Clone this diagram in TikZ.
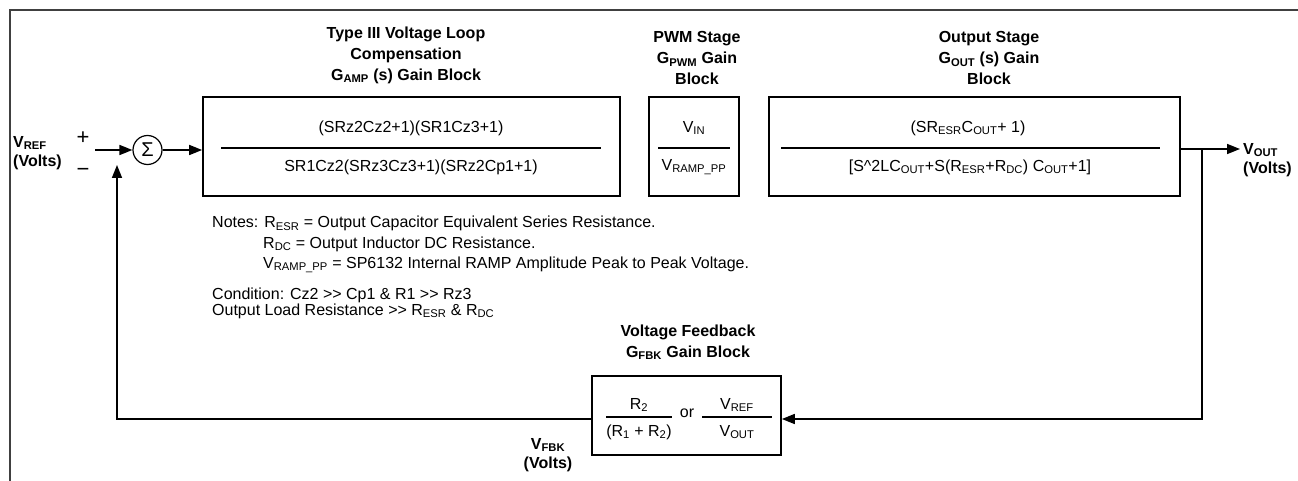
\documentclass[tikz,border=0pt]{standalone}
\usepackage{fontspec}
\setmainfont{Liberation Sans}
\usetikzlibrary{arrows.meta}
\tikzset{
  blk/.style={draw, line width=1.7pt, inner sep=0pt},
  fracline/.style={line width=1.3pt},
  conn/.style={line width=1.7pt},
  arr/.style={conn, -{Triangle[length=13pt,width=10pt]}},
  ttl/.style={font=\fontsize{16}{21}\selectfont\bfseries, align=center, inner sep=0pt},
  txt/.style={font=\fontsize{16}{19}\selectfont, inner sep=0pt},
  lbl/.style={font=\fontsize{16}{19}\selectfont\bfseries, inner sep=0pt},
  framel/.style={line width=1.5pt, draw=black!75},
}
\begin{document}
\begin{tikzpicture}[x=1pt,y=-1pt]
\useasboundingbox (0,0) rectangle (1298,481);
% frame
\draw[framel] (1298,10) -- (10,10) -- (10,481);

% blocks
\node[blk, minimum width=417pt, minimum height=99pt] (amp) at (411.5,146.5) {};
\node[blk, minimum width=90pt, minimum height=99pt] (pwm) at (694,146.5) {};
\node[blk, minimum width=411pt, minimum height=99pt] (gout) at (974.5,146.5) {};
\node[blk, minimum width=189pt, minimum height=79pt] (fbk) at (686.5,415.5) {};

% titles
\node[ttl] (tamp) at (406,55) {Type III Voltage Loop\\Compensation\\G\textsubscript{AMP} (s) Gain Block};
\node[ttl] (tpwm) at (697,58) {PWM Stage\\G\textsubscript{PWM} Gain\\Block};
\node[ttl] (tout) at (989,58) {Output Stage\\G\textsubscript{OUT} (s) Gain\\Block};
\node[ttl] (tfbk) at (688,342) {Voltage Feedback\\G\textsubscript{FBK} Gain Block};

% block contents
\draw[fracline] (221,148) -- (601,148);
\node[txt] (ampnum) at (411,128) {(SRz2Cz2+1)(SR1Cz3+1)};
\node[txt] (ampden) at (411,167) {SR1Cz2(SRz3Cz3+1)(SRz2Cp1+1)};

\draw[fracline] (658,148) -- (730,148);
\node[txt] (pwmnum) at (694,128) {V\textsubscript{IN}};
\node[txt] (pwmden) at (694,167) {V\textsubscript{RAMP\_PP}};

\draw[fracline] (781,148) -- (1160,148);
\node[txt] (outnum) at (968,128) {(SR\textsubscript{ESR}C\textsubscript{OUT}+ 1)};
\node[txt] (outden) at (970,167) {[S\textasciicircum 2LC\textsubscript{OUT}+S(R\textsubscript{ESR}+R\textsubscript{DC}) C\textsubscript{OUT}+1]};

\draw[fracline] (606,417) -- (672,417);
\node[txt] (fbn1) at (639,405) {R\textsubscript{2}};
\node[txt] (fbd1) at (639,432) {(R\textsubscript{1} + R\textsubscript{2})};
\node[txt] (fbor) at (687,413) {or};
\draw[fracline] (702,417) -- (772,417);
\node[txt] (fbn2) at (737,405) {V\textsubscript{REF}};
\node[txt] (fbd2) at (737,432) {V\textsubscript{OUT}};

% summing junction
\node[draw, circle, line width=1.2pt, minimum size=29pt, inner sep=0pt, font=\fontsize{20}{20}\selectfont] (sum) at (147.5,150) {Σ};
\node[inner sep=0pt, font=\fontsize{22}{22}\selectfont] (plus) at (83,138) {+};
\node[inner sep=0pt, font=\fontsize{22}{22}\selectfont] (minus) at (83,172) {−};

% signal labels
\node[lbl, align=left, anchor=west] (vref) at (13,153) {V\textsubscript{REF}\\(Volts)};
\node[lbl, align=left, anchor=west] (vout) at (1243,160) {V\textsubscript{OUT}\\(Volts)};
\node[lbl, align=center] (vfbk) at (548,455) {V\textsubscript{FBK}\\(Volts)};

% connectors
\coordinate (vrefin) at (95,150);
\coordinate (junc) at (1202,149);
\coordinate (voutend) at (1240,149);
\coordinate (fbr) at (1202,419);
\coordinate (fbl) at (117,419);
\coordinate (fbtip) at (117,165);
\draw[arr] (vrefin) -- (sum.west);
\draw[arr] (sum.east) -- (sum.east -| amp.west);
\draw[arr] (gout.east |- junc) -- (voutend);
\draw[arr] (junc) -- (fbr) -- (fbr -| fbk.east);
\draw[arr] (fbk.west |- fbl) -- (fbl) -- (fbtip);

% notes
\node[txt, anchor=base west] (note1) at (212,228) {Notes: R\textsubscript{ESR} = Output Capacitor Equivalent Series Resistance.};
\node[txt, anchor=base west] (note2) at (263,248) {R\textsubscript{DC} = Output Inductor DC Resistance.};
\node[txt, anchor=base west] (note3) at (263,268) {V\textsubscript{RAMP\_PP} = SP6132 Internal RAMP Amplitude Peak to Peak Voltage.};
\node[txt, anchor=base west] (note4) at (212,299) {Condition: Cz2 >{}> Cp1 \& R1 >{}> Rz3};
\node[txt, anchor=base west] (note5) at (212,315) {Output Load Resistance >{}> R\textsubscript{ESR} \& R\textsubscript{DC}};
\end{tikzpicture}
\end{document}
